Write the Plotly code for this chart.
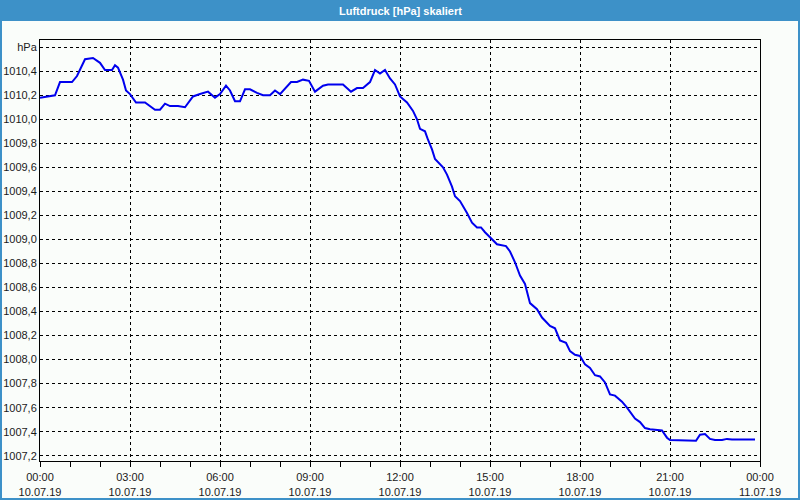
import pandas as pd
import plotly.graph_objects as go

# minutes after 10.07.19 00:00
minutes = [0, 30, 40, 64, 74, 90, 106, 120, 130, 144, 150, 156, 166, 172, 180, 192, 210, 230, 240,
           250, 260, 276, 290, 306, 320, 336, 350, 360, 372, 380, 390, 400, 410, 420, 434, 446, 460,
           470, 480, 502, 514, 526, 538, 550, 566, 576, 606, 622, 634, 646, 660, 670, 680, 690, 700,
           710, 720, 734, 746, 754, 760, 770, 776, 784, 790, 806, 814, 824, 830, 840, 854, 864, 874,
           882, 890, 902, 914, 932, 940, 950, 960, 970, 974, 980, 994, 1004, 1020, 1030, 1040, 1052,
           1060, 1070, 1080, 1090, 1100, 1110, 1120, 1130, 1140, 1150, 1164, 1174, 1190, 1200, 1210,
           1220, 1244, 1254, 1260, 1290, 1294, 1312, 1320, 1330, 1340, 1350, 1364, 1374, 1384, 1414,
           1420, 1430]
pressure = [1010.18, 1010.20, 1010.31, 1010.31, 1010.36, 1010.50, 1010.51, 1010.47, 1010.41, 1010.41,
            1010.45, 1010.43, 1010.33, 1010.24, 1010.21, 1010.14, 1010.14, 1010.08, 1010.08, 1010.13,
            1010.11, 1010.11, 1010.10, 1010.19, 1010.21, 1010.23, 1010.18, 1010.21, 1010.28, 1010.24,
            1010.15, 1010.15, 1010.25, 1010.25, 1010.22, 1010.20, 1010.20, 1010.24, 1010.21, 1010.31,
            1010.31, 1010.33, 1010.32, 1010.23, 1010.28, 1010.29, 1010.29, 1010.23, 1010.26, 1010.26,
            1010.31, 1010.41, 1010.38, 1010.41, 1010.34, 1010.29, 1010.19, 1010.14, 1010.07, 1010.00,
            1009.92, 1009.90, 1009.83, 1009.75, 1009.67, 1009.60, 1009.54, 1009.44, 1009.36, 1009.32,
            1009.22, 1009.14, 1009.10, 1009.10, 1009.06, 1009.01, 1008.96, 1008.945, 1008.90, 1008.81,
            1008.70, 1008.63, 1008.57, 1008.47, 1008.42, 1008.35, 1008.28, 1008.26, 1008.16, 1008.14,
            1008.07, 1008.04, 1008.03, 1007.96, 1007.93, 1007.87, 1007.86, 1007.81, 1007.71, 1007.70,
            1007.65, 1007.60, 1007.51, 1007.48, 1007.43, 1007.42, 1007.41, 1007.35, 1007.33, 1007.33,
            1007.325, 1007.325, 1007.375, 1007.38, 1007.34, 1007.33, 1007.33, 1007.34, 1007.335,
            1007.335, 1007.34, 1007.335]

y_tickvals = [1007.2, 1007.4, 1007.6, 1007.8, 1008.0, 1008.2, 1008.4, 1008.6, 1008.8, 1009.0,
              1009.2, 1009.4, 1009.6, 1009.8, 1010.0, 1010.2, 1010.4, 1010.6]
y_ticktext = ["1007,2", "1007,4", "1007,6", "1007,8", "1008,0", "1008,2", "1008,4", "1008,6",
              "1008,8", "1009,0", "1009,2", "1009,4", "1009,6", "1009,8", "1010,0", "1010,2",
              "1010,4", "hPa"]
x_tickvals = ["2019-07-10 00:00", "2019-07-10 03:00", "2019-07-10 06:00", "2019-07-10 09:00",
              "2019-07-10 12:00", "2019-07-10 15:00", "2019-07-10 18:00", "2019-07-10 21:00",
              "2019-07-11 00:00"]
x_ticktext = ["00:00<br>10.07.19", "03:00<br>10.07.19", "06:00<br>10.07.19", "09:00<br>10.07.19",
              "12:00<br>10.07.19", "15:00<br>10.07.19", "18:00<br>10.07.19", "21:00<br>10.07.19",
              "00:00<br>11.07.19"]
title = "Luftdruck [hPa] skaliert"

times = pd.Timestamp("2019-07-10") + pd.to_timedelta(minutes, unit="m")

W, H = 800, 500
L, R, T, B = 40, 40, 40, 39
pw, ph = W - L - R, H - T - B


def px(x):
    return (x - L) / pw


def py(y):
    return (H - B - y) / ph


bar = "#3d91c8"
bg = "#fafdfa"
font = "Liberation Sans"

fig = go.Figure()
fig.add_trace(go.Scatter(x=times, y=pressure, mode="lines",
                         line=dict(color="#0000ee", width=2), hoverinfo="skip"))

shapes = [
    dict(type="rect", xref="paper", yref="paper", x0=px(0), x1=px(W), y0=py(21), y1=py(0),
         fillcolor=bar, line=dict(width=0), layer="above"),
    dict(type="rect", xref="paper", yref="paper", x0=px(0), x1=px(2), y0=py(H), y1=py(0),
         fillcolor=bar, line=dict(width=0), layer="above"),
    dict(type="rect", xref="paper", yref="paper", x0=px(W - 2), x1=px(W), y0=py(H), y1=py(0),
         fillcolor=bar, line=dict(width=0), layer="above"),
    dict(type="rect", xref="paper", yref="paper", x0=px(0), x1=px(W), y0=py(H), y1=py(H - 2),
         fillcolor=bar, line=dict(width=0), layer="above"),
]

fig.update_layout(
    width=W, height=H,
    margin=dict(l=L, r=R, t=T, b=B, pad=0, autoexpand=False),
    paper_bgcolor=bg, plot_bgcolor=bg,
    showlegend=False,
    shapes=shapes,
    font=dict(family=font, size=11, color="#1a1a1a"),
    annotations=[dict(text="<b>" + title + "</b>", xref="paper", yref="paper",
                      x=0.5, y=py(10.5), xanchor="center", yanchor="middle", showarrow=False,
                      font=dict(family=font, size=11, color="white"))],
)
fig.update_xaxes(
    range=["2019-07-10 00:00", "2019-07-11 00:00"],
    tickvals=x_tickvals, ticktext=x_ticktext,
    showgrid=True, gridcolor="black", gridwidth=1, griddash="3px,3px",
    showline=True, linecolor="black", linewidth=1, mirror=True,
    ticks="outside", ticklen=5, tickcolor="black", ticklabelstandoff=1,
    minor=dict(dtick=3600000, ticks="outside", ticklen=5, tickcolor="black", showgrid=False),
    zeroline=False, automargin=False,
)
fig.update_yaxes(
    range=[1007.156, 1010.66],
    tickvals=y_tickvals, ticktext=y_ticktext,
    showgrid=True, gridcolor="black", gridwidth=1, griddash="3px,3px",
    showline=True, linecolor="black", linewidth=1, mirror=True,
    ticks="", zeroline=False, automargin=False,
)
fig.write_html("out.html")
